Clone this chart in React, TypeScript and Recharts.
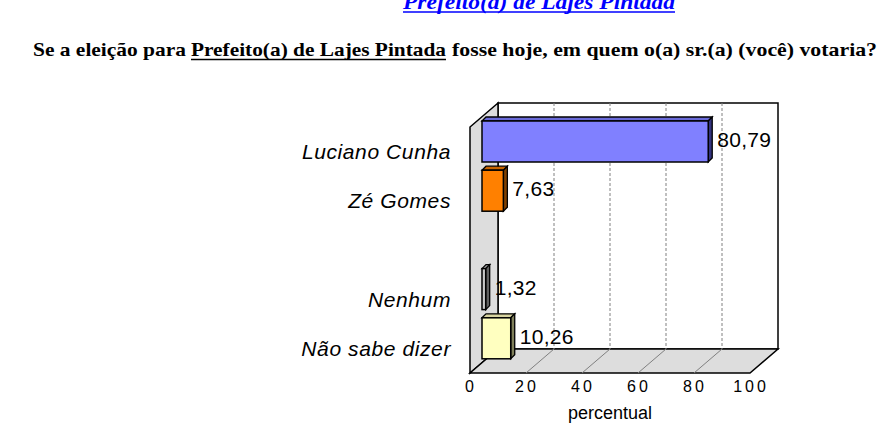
import React from 'react';
import { BarChart, Bar, XAxis, YAxis, ReferenceArea, LabelList } from 'recharts';

// categories (one empty slot between the candidates and "Nenhum", as in the original)
const categories = ['Luciano Cunha', 'Zé Gomes', ' ', 'Nenhum', 'Não sabe dizer'];
const percentual = [80.79, 7.63, null, 1.32, 10.26];
const xTicks = [0, 20, 40, 60, 80, 100];

// front / top / side colour for each box
const palette = [
  { front: '#8080FF', top: '#6A6AD8', side: '#33337F' },
  { front: '#FF8000', top: '#C86400', side: '#7F4000' },
  { front: '#FFFFFF', top: '#FFFFFF', side: '#FFFFFF' },
  { front: '#C8C8C8', top: '#A0A0A0', side: '#606060' },
  { front: '#FFFFC0', top: '#D8D4A0', side: '#80805A' },
];

const data = categories.map((name, i) => ({ name, value: percentual[i] }));

// depth of the 3D box (back wall -> front of the floor)
const DX = 28;
const DY = 24;
const FONT = '"Liberation Sans", Arial, sans-serif';

const Walls = (props: any) => {
  const { x, y, width, height } = props;
  const bottom = y + height;
  const gx = xTicks.slice(1, -1).map((t) => x + (width * t) / 100);
  return (
    <g>
      <rect x={x} y={y} width={width} height={height} fill="#FFFFFF" stroke="#000" strokeWidth={1.5} />
      <polygon
        points={`${x},${y} ${x - DX},${y + DY} ${x - DX},${bottom + DY} ${x},${bottom}`}
        fill="#DDDDDD"
        stroke="#000"
        strokeWidth={1.5}
      />
      <polygon
        points={`${x},${bottom} ${x + width},${bottom} ${x + width - DX},${bottom + DY} ${x - DX},${bottom + DY}`}
        fill="#DDDDDD"
        stroke="#000"
        strokeWidth={1.5}
      />
      {gx.map((v, i) => (
        <g key={i}>
          <line x1={v} y1={y} x2={v} y2={bottom} stroke="#808080" strokeDasharray="3 2" strokeWidth={1} />
          <line x1={v} y1={bottom} x2={v - DX} y2={bottom + DY} stroke="#808080" strokeWidth={1} />
        </g>
      ))}
    </g>
  );
};

const Box3D = (props: any) => {
  const { x, y, width, height, payload } = props;
  if (!width || width <= 0) return null;
  const k = categories.indexOf(payload?.name);
  const c = palette[k >= 0 ? k : 0];
  const fx = x - 16;
  const fy = y + 14;
  const d = 4;
  return (
    <g>
      <polygon
        points={`${fx},${fy} ${fx + d},${fy - d} ${fx + width + d},${fy - d} ${fx + width},${fy}`}
        fill={c.top}
        stroke="#000"
        strokeWidth={1.3}
      />
      <polygon
        points={`${fx + width},${fy} ${fx + width + d},${fy - d} ${fx + width + d},${fy + height - d} ${fx + width},${fy + height}`}
        fill={c.side}
        stroke="#000"
        strokeWidth={1.3}
      />
      <rect x={fx} y={fy} width={width} height={height} fill={c.front} stroke="#000" strokeWidth={1.5} />
    </g>
  );
};

const ValueLabel = (props: any) => {
  const { x, y, width, height, value } = props;
  if (value == null) return null;
  return (
    <text
      x={x + width - 16 + 9}
      y={y + 12 + height / 2}
      dominantBaseline="central"
      fontFamily={FONT}
      fontSize={21}
      letterSpacing={0.3}
      fill="#000"
    >
      {Number(value).toFixed(2).replace('.', ',')}
    </text>
  );
};

const CategoryTick = (props: any) => {
  const { x, y, payload } = props;
  return (
    <text
      x={x - 47}
      y={y + DY}
      textAnchor="end"
      dominantBaseline="central"
      fontFamily={FONT}
      fontStyle="italic"
      fontSize={21}
      letterSpacing={0.6}
      fill="#000"
    >
      {payload.value}
    </text>
  );
};

const NumberTick = (props: any) => {
  const { x, y, payload } = props;
  return (
    <text
      x={x - DX + 1}
      y={y + DY + 13}
      textAnchor="middle"
      dominantBaseline="central"
      fontFamily={FONT}
      fontSize={16}
      letterSpacing={3}
      fill="#000"
    >
      {payload.value}
    </text>
  );
};

const AxisTitle = (props: any) => {
  const vb = props.viewBox || {};
  return (
    <text
      x={vb.x + vb.width / 2 - DX}
      y={vb.y + 64}
      textAnchor="middle"
      dominantBaseline="central"
      fontFamily={FONT}
      fontSize={18}
      fill="#000"
    >
      percentual
    </text>
  );
};

export default function App() {
  const serif = '"Liberation Serif", "DejaVu Serif", serif';
  return (
    <div style={{ position: 'absolute', left: 0, top: 0, width: 885, height: 440, background: '#FFFFFF' }}>
      <svg width={885} height={440} style={{ position: 'absolute', left: 0, top: 0 }}>
        <text
          x={403}
          y={9}
          fontFamily={serif}
          fontWeight="bold"
          fontStyle="italic"
          fontSize={20}
          fill="#0000FF"
          textLength={272}
          lengthAdjust="spacingAndGlyphs"
        >
          Prefeito(a) de Lajes Pintada
        </text>
        <line x1={403} x2={675} y1={12} y2={12} stroke="#0000FF" strokeWidth={1.6} />
        <text x={33} y={56} fontFamily={serif} fontWeight="bold" fontSize={19} fill="#000" textLength={153} lengthAdjust="spacingAndGlyphs">
          Se a eleição para
        </text>
        <text x={191} y={56} fontFamily={serif} fontWeight="bold" fontSize={19} fill="#000" textLength={255} lengthAdjust="spacingAndGlyphs">
          Prefeito(a) de Lajes Pintada
        </text>
        <line x1={191} x2={446} y1={59.5} y2={59.5} stroke="#000" strokeWidth={1.6} />
        <text x={452} y={56} fontFamily={serif} fontWeight="bold" fontSize={19} fill="#000" textLength={425} lengthAdjust="spacingAndGlyphs">
          fosse hoje, em quem o(a) sr.(a) (você) votaria?
        </text>
      </svg>
      <div style={{ position: 'absolute', left: 0, top: 0 }}>
        <BarChart
          width={885}
          height={440}
          data={data}
          layout="vertical"
          margin={{ top: 103, right: 107, bottom: 51, left: 298 }}
        >
          <XAxis
            type="number"
            domain={[0, 100]}
            ticks={xTicks}
            axisLine={false}
            tickLine={false}
            tickSize={0}
            tickMargin={0}
            height={40}
            tick={<NumberTick />}
            label={{ content: <AxisTitle /> }}
          />
          <YAxis
            type="category"
            dataKey="name"
            axisLine={false}
            tickLine={false}
            tickSize={0}
            tickMargin={0}
            width={200}
            tick={<CategoryTick />}
          />
          <ReferenceArea x1={0} x2={100} shape={<Walls />} fillOpacity={1} ifOverflow="visible" />
          <Bar dataKey="value" barSize={41} shape={<Box3D />} isAnimationActive={false}>
            <LabelList dataKey="value" content={<ValueLabel />} />
          </Bar>
        </BarChart>
      </div>
    </div>
  );
}
